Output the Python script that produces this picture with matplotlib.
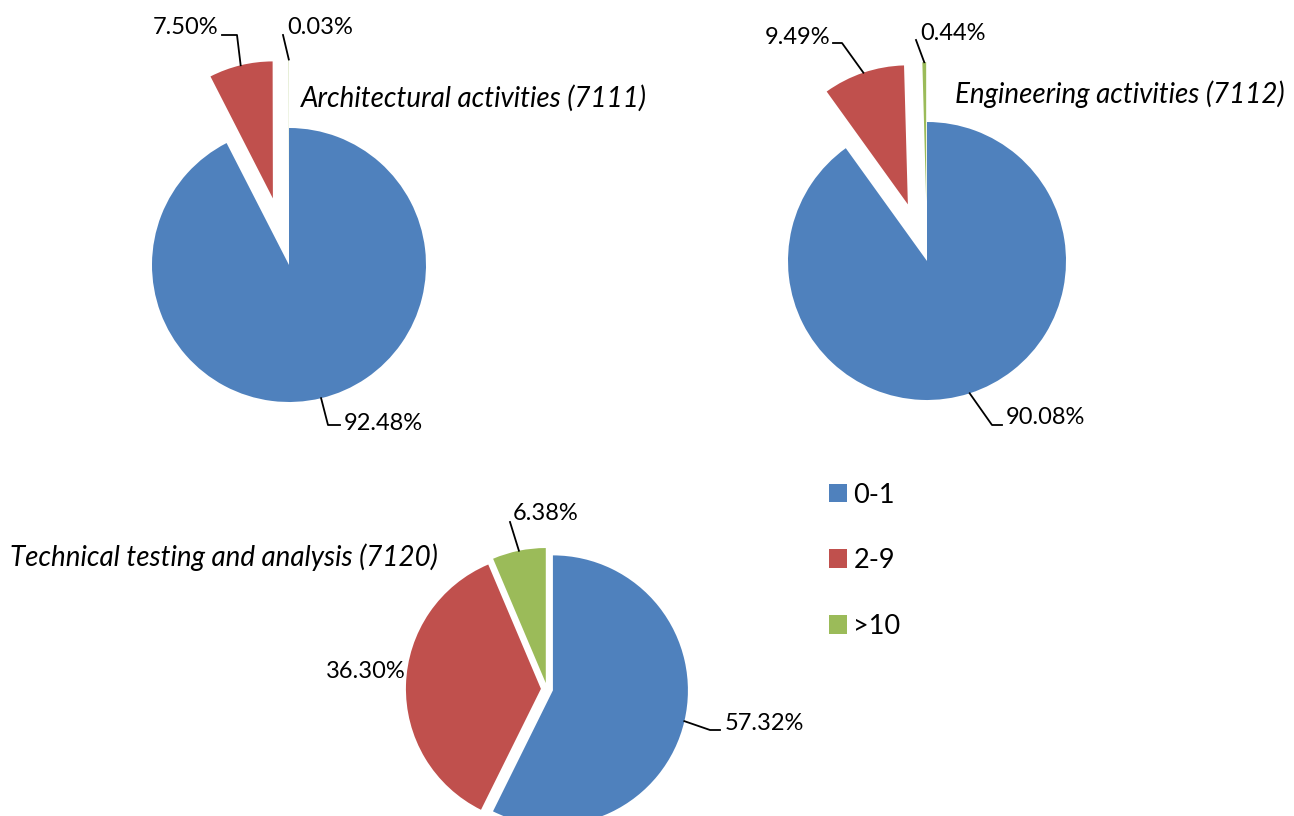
import matplotlib.pyplot as plt
import numpy as np

plt.rcParams['font.family'] = ['Lato', 'DejaVu Sans']

W, H = 1294, 816

categories = ['0-1', '2-9', '>10']
arch_share = [92.48, 7.50, 0.03]
eng_share = [90.08, 9.49, 0.44]
tech_share = [57.32, 36.30, 6.38]
titles = ['Architectural activities (7111)', 'Engineering activities (7112)',
          'Technical testing and analysis (7120)']
colors = ['#4F81BD', '#C0504D', '#9BBB59']

# layout in image pixels (y measured from top)
pies = [
    dict(vals=arch_share, center=(289, 265), r=137, explode=[0, 0.5, 0.5],
         title_xy=(301, 98),
         labels=[dict(pts=[(328, 425), (340, 425)], xy=(344, 424), ha='left'),
                 dict(pts=[(237, 35), (222, 35)], xy=(218, 28), ha='right'),
                 dict(pts=[(283, 35)], xy=(287, 27), ha='left')]),
    dict(vals=eng_share, center=(927, 261), r=139, explode=[0, 0.43, 0.43],
         title_xy=(955, 94),
         labels=[dict(pts=[(992, 425), (1002, 425)], xy=(1006, 418), ha='left'),
                 dict(pts=[(842, 43), (833, 43)], xy=(830, 37), ha='right'),
                 dict(pts=[(916, 40)], xy=(920, 33), ha='left')]),
    dict(vals=tech_share, center=(547, 689), r=135, explode=[0.045, 0.045, 0.045],
         title_xy=(10, 557),
         labels=[dict(pts=[(710, 730), (720, 730)], xy=(725, 724), ha='left'),
                 dict(pts=None, xy=(406, 672), ha='right'),
                 dict(pts=[(510, 522)], xy=(513, 514), ha='left')]),
]

fig = plt.figure(figsize=(W / 100, H / 100), dpi=100)
ax = fig.add_axes([0, 0, 1, 1])

legend_wedges = None
for title, p in zip(titles, pies):
    cx, cy = p['center']
    r = p['r']
    wedges, _ = ax.pie(p['vals'], colors=colors, startangle=90, counterclock=False,
                       explode=[e * r for e in p['explode']],
                       center=(cx, H - cy), radius=r)
    legend_wedges = wedges
    tx, ty = p['title_xy']
    ax.text(tx, H - ty, title, fontsize=20, style='italic', ha='left', va='center')
    for w, v, lab in zip(wedges, p['vals'], p['labels']):
        if lab['pts'] is not None:
            mid = np.deg2rad((w.theta1 + w.theta2) / 2)
            x0 = w.center[0] + w.r * np.cos(mid)
            y0 = w.center[1] + w.r * np.sin(mid)
            xs = [x0] + [q[0] for q in lab['pts']]
            ys = [y0] + [H - q[1] for q in lab['pts']]
            ax.plot(xs, ys, color='black', lw=1.3)
        lx, ly = lab['xy']
        ax.text(lx, H - ly, '%.2f%%' % v, fontsize=17, ha=lab['ha'], va='center')

ax.set_xlim(0, W)
ax.set_ylim(0, H)
ax.set_aspect('equal')
ax.axis('off')

fig.legend(legend_wedges, categories, loc='upper left',
           bbox_to_anchor=(815 / W, 1 - 469 / H), frameon=False, fontsize=19.5,
           handlelength=0.67, handleheight=0.67, handletextpad=0.25,
           labelspacing=1.5, borderpad=0)

plt.savefig('out.png', dpi=100)
